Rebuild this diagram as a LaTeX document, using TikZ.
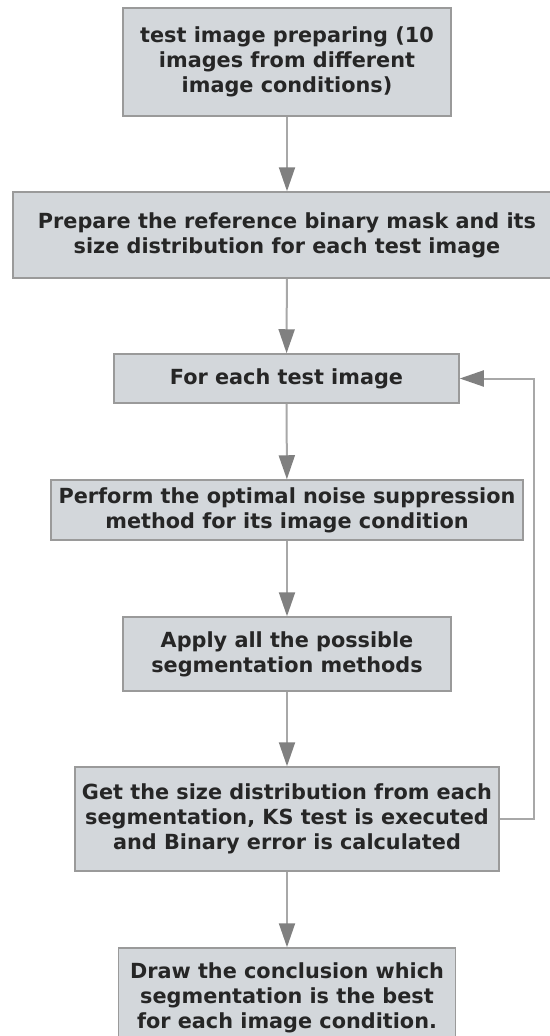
\documentclass[tikz,border=0pt]{standalone}
\usepackage{fontspec}
\setmainfont{DejaVu Sans}
\usetikzlibrary{arrows.meta}
\definecolor{boxfill}{HTML}{D3D7DB}
\definecolor{boxline}{HTML}{9A9A9A}
\definecolor{wire}{HTML}{A8A8A8}
\definecolor{tip}{HTML}{808080}
\definecolor{ink}{HTML}{262626}
\tikzset{
  stepbox/.style={draw=boxline, line width=1.5pt, fill=boxfill, inner sep=0pt,
    align=center, text=ink, font=\bfseries\fontsize{20.8}{25}\selectfont},
  flow/.style={draw=wire, line width=2pt,
    -{Triangle[length=24pt, width=16pt, color=tip]}}
}
\begin{document}
\begin{tikzpicture}[x=1pt, y=-1pt]
  \useasboundingbox (0,0) rectangle (549,1036);

  \node[stepbox, minimum width=328pt, minimum height=108pt] (b1) at (287,62)
    {test image preparing (10\\images from different\\image conditions)};
  \node[stepbox, minimum width=548pt, minimum height=86pt] (b2) at (287,235)
    {Prepare the reference binary mask and its\\size distribution for each test image};
  \node[stepbox, minimum width=345pt, minimum height=49pt] (b3) at (286.5,378.5)
    {For each test image};
  \node[stepbox, minimum width=472pt, minimum height=60pt] (b4) at (287,510)
    {Perform the optimal noise suppression\\method for its image condition};
  \node[stepbox, minimum width=328pt, minimum height=74pt] (b5) at (287,654)
    {Apply all the possible\\segmentation methods};
  \node[stepbox, minimum width=424pt, minimum height=104pt] (b6) at (287,819)
    {Get the size distribution from each\\segmentation, KS test is executed\\and Binary error is calculated};
  \node[stepbox, minimum width=337pt, minimum height=100pt] (b7) at (287,998)
    {Draw the conclusion which\\segmentation is the best\\for each image condition.};

  \coordinate (rail) at (534,819);

  \draw[flow] (b1) -- (b2);
  \draw[flow] (b2) -- (b3);
  \draw[flow] (b3) -- (b4);
  \draw[flow] (b4) -- (b5);
  \draw[flow] (b5) -- (b6);
  \draw[flow] (b6) -- (b7);
  \draw[flow] (b6.east) -- (rail) |- (b3.east);
\end{tikzpicture}
\end{document}
